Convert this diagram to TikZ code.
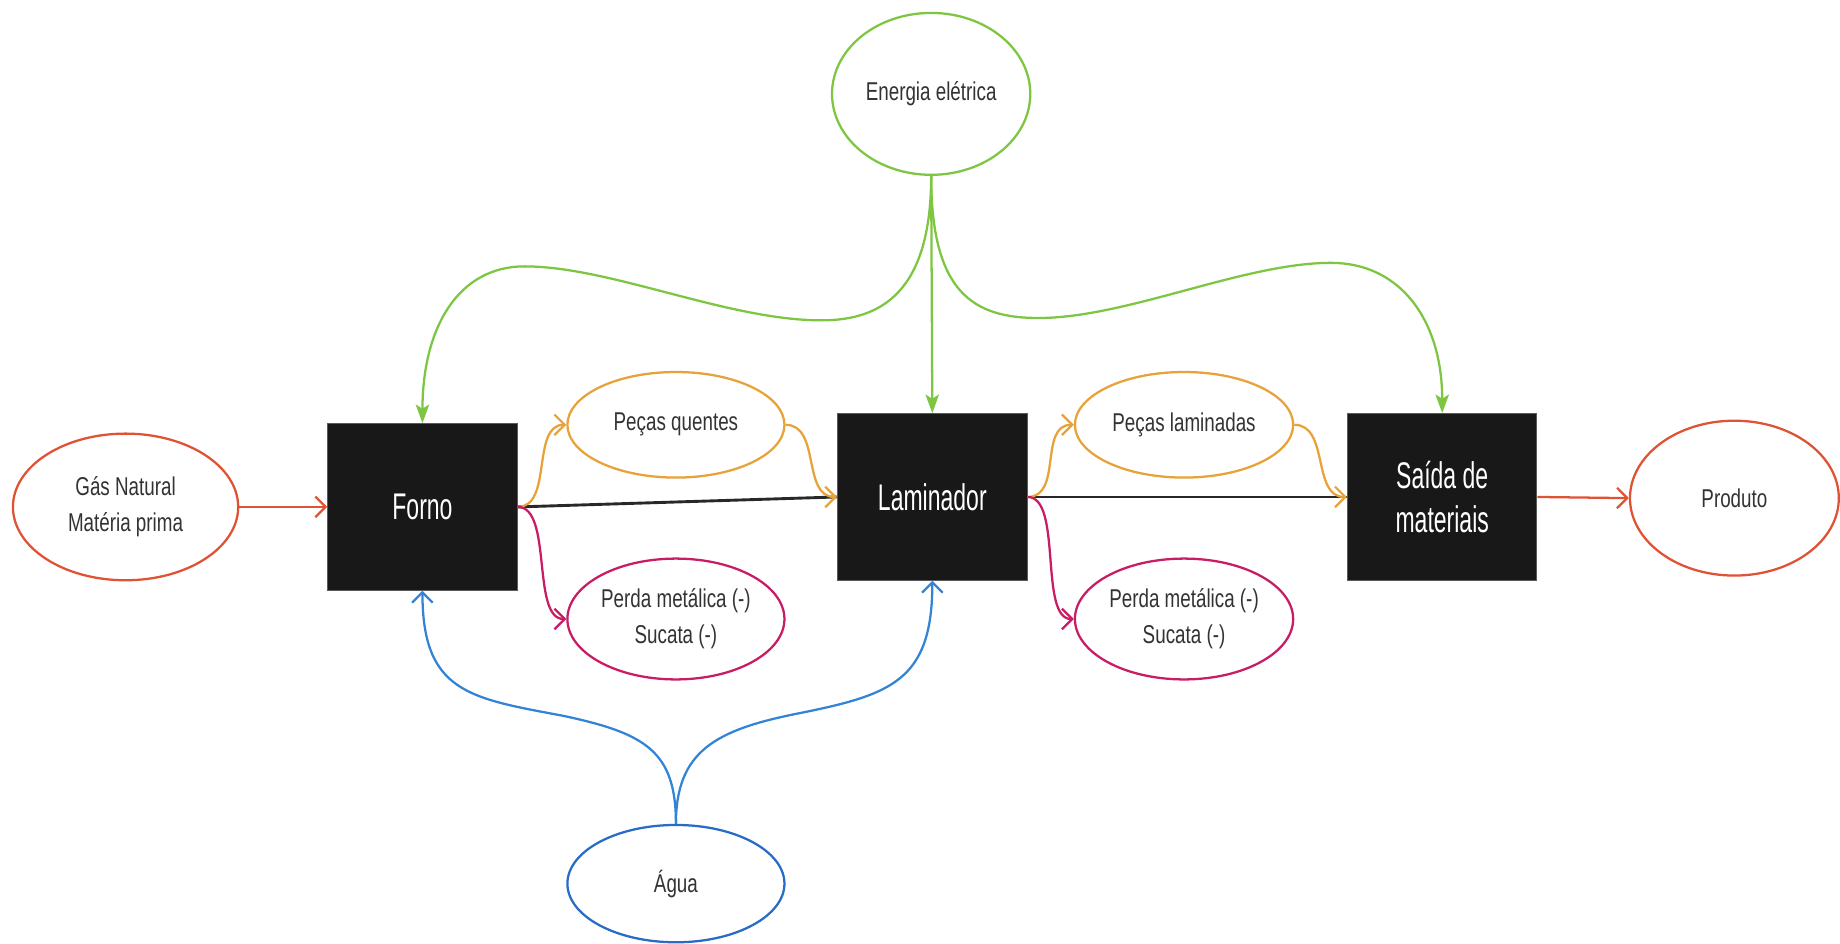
\documentclass[tikz,border=0pt]{standalone}
\usepackage{fontspec}
\setmainfont{Liberation Sans}
\newfontfamily\ellfont[FakeStretch=0.73]{Liberation Sans}
\newfontfamily\boxfont[FakeStretch=0.62]{Liberation Sans}
\usetikzlibrary{arrows.meta,shapes.geometric}

\definecolor{cred}{RGB}{224,82,52}
\definecolor{corange}{RGB}{232,162,58}
\definecolor{cgreen}{RGB}{126,198,66}
\definecolor{cmag}{RGB}{200,28,100}
\definecolor{cblue}{RGB}{52,132,214}
\definecolor{cbluedark}{RGB}{40,108,198}
\definecolor{ctext}{RGB}{51,51,51}
\definecolor{cbox}{RGB}{24,24,24}

\begin{document}
\begin{tikzpicture}[x=0.02cm, y=-0.02cm,
  oval/.style={ellipse, draw, line width=1.1pt, fill=white, inner sep=0pt,
    align=center, text=ctext, font=\fontsize{12.5}{17.5}\selectfont\ellfont},
  blackbox/.style={rectangle, draw={rgb,255:red,90;green,90;blue,90}, line width=0.5pt,
    fill=cbox, inner sep=0pt, minimum width=3.23cm, minimum height=2.84cm,
    align=center, text=white, font=\fontsize{18}{21.5}\selectfont\boxfont},
  openarrow/.style={-{Straight Barb[length=5pt,width=10pt,line width=1.1pt]}, line width=1.1pt},
  greenarrow/.style={-{Stealth[length=9pt,width=6.5pt,inset=2pt]}, line width=1.1pt, cgreen},
  flow/.style={line width=1.4pt, draw={rgb,255:red,40;green,40;blue,40}}
]
\useasboundingbox (0,0) rectangle (1568,804);

% process blocks
\node[blackbox] (forno) at (360,432) {Forno};
\node[blackbox] (lam)   at (794.5,423.5) {Laminador};
\node[blackbox] (saida) at (1229,423.5) {Saída de\\materiais};

% inputs, outputs and losses
\node[oval, draw=cgreen, minimum width=3.38cm, minimum height=2.76cm] (ener) at (793.5,80) {Energia elétrica};
\node[oval, draw=cred, minimum width=3.84cm, minimum height=2.50cm] (gas) at (107,432) {Gás Natural\\Matéria prima};
\node[oval, draw=corange, minimum width=3.70cm, minimum height=1.80cm] (pq) at (576,362) {Peças quentes};
\node[oval, draw=cmag, minimum width=3.70cm, minimum height=2.06cm] (pm1) at (576,527.5) {Perda metálica (-)\\Sucata (-)};
\node[oval, draw=corange, minimum width=3.72cm, minimum height=1.80cm] (pl) at (1009,362) {Peças laminadas};
\node[oval, draw=cmag, minimum width=3.72cm, minimum height=2.06cm] (pm2) at (1009,527.5) {Perda metálica (-)\\Sucata (-)};
\node[oval, draw=cred, minimum width=3.56cm, minimum height=2.64cm] (prod) at (1478,424.5) {Produto};
\node[oval, draw=cbluedark, minimum width=3.70cm, minimum height=2.00cm] (agua) at (576,753) {Água};

% main material line
\draw[flow] (forno.east) -- (lam.west);
\draw[flow] (lam.east) -- (saida.west);

% raw material in, product out
\draw[openarrow, cred] (gas.east) -- (forno.west);
\draw[openarrow, cred] (saida.east) -- (prod.west);

% hot parts and rolled parts
\draw[openarrow, corange] (forno.east) .. controls +(30,0) and +(-30,0) .. (pq.west);
\draw[openarrow, corange] (pq.east) .. controls +(30,0) and +(-30,0) .. (lam.west);
\draw[openarrow, corange] (lam.east) .. controls +(30,0) and +(-30,0) .. (pl.west);
\draw[openarrow, corange] (pl.east) .. controls +(30,0) and +(-30,0) .. (saida.west);

% metal losses
\draw[openarrow, cmag] (forno.east) .. controls +(30,0) and +(-30,0) .. (pm1.west);
\draw[openarrow, cmag] (lam.east) .. controls +(30,0) and +(-30,0) .. (pm2.west);

% electric energy
\draw[greenarrow] (ener.south) -- (lam.north);
\draw[greenarrow] (ener.south) .. controls (793.5,250) and (750,273) .. (700,273)
  .. controls (620,273) and (520,227) .. (447,227)
  .. controls (390,227) and (360,280) .. (forno.north);
\draw[greenarrow] (ener.south) .. controls (793.5,250) and (830,271) .. (885,271)
  .. controls (960,271) and (1060,224) .. (1134,224)
  .. controls (1195,224) and (1229,275) .. (saida.north);

% water
\draw[openarrow, cblue] (agua.north) .. controls (576,640) and (550,625) .. (480,610)
  .. controls (400,595) and (360,590) .. (forno.south);
\draw[openarrow, cblue] (agua.north) .. controls (576,640) and (610,622) .. (680,608)
  .. controls (760,592) and (794.5,580) .. (lam.south);
\end{tikzpicture}
\end{document}
